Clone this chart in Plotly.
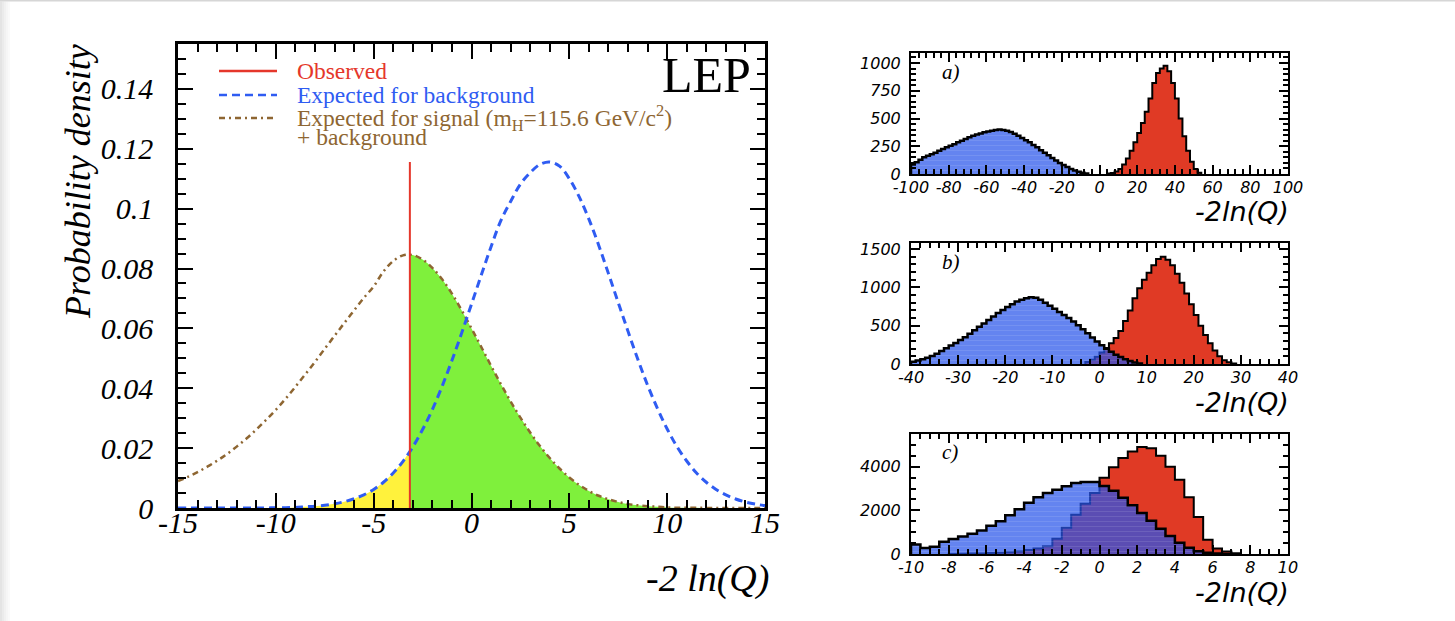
import numpy as np
import plotly.graph_objects as go

W, H = 1455, 621

# ---------------- main panel: probability densities of -2ln(Q) ----------------
q_grid = np.arange(-15.0, 15.01, 0.5)

bkg_density = [0, 0, 0, 0, 0, 0, 0, 0, 0, 0,
               0.0001, 0.0001, 0.0002, 0.0004, 0.0006, 0.0009, 0.0014, 0.0021, 0.0031, 0.0044,
               0.0062, 0.0086, 0.0117, 0.0156, 0.0204, 0.0262, 0.0329, 0.0407, 0.0493, 0.0585,
               0.0681, 0.0778, 0.0873, 0.0960, 0.1024, 0.1082, 0.1120, 0.1148, 0.1156, 0.1142,
               0.1100, 0.1040, 0.0965, 0.0878, 0.0783, 0.0686, 0.0590, 0.0497, 0.0410, 0.0333,
               0.0264, 0.0205, 0.0157, 0.0117, 0.0086, 0.0062, 0.0044, 0.0030, 0.0020, 0.0013,
               0.0008]

sb_density = [0.0090, 0.0104, 0.0120, 0.0138, 0.0158, 0.0180, 0.0205, 0.0232, 0.0262, 0.0294,
              0.0328, 0.0365, 0.0405, 0.0446, 0.0488, 0.0532, 0.0575, 0.0618, 0.0660, 0.0702,
              0.0740, 0.0790, 0.0825, 0.0844, 0.0845, 0.0830, 0.0802, 0.0764, 0.0716, 0.0660,
              0.0600, 0.0538, 0.0475, 0.0414, 0.0356, 0.0302, 0.0252, 0.0207, 0.0167, 0.0132,
              0.0102, 0.0077, 0.0057, 0.0041, 0.0029, 0.0020, 0.0013, 0.0009, 0.0006, 0.0004,
              0.0002, 0.0001, 0.0001, 0.0001, 0, 0, 0, 0, 0, 0,
              0]

q_observed = -3.15
bkg_at_observed = 0.0190
sb_at_observed = 0.0845
observed_line_top = max(bkg_density)

main_x_ticks = [-15, -10, -5, 0, 5, 10, 15]
main_x_labels = ["-15", "-10", "-5", "0", "5", "10", "15"]
main_y_ticks = [0, 0.02, 0.04, 0.06, 0.08, 0.10, 0.12, 0.14]
main_y_labels = ["0", "0.02", "0.04", "0.06", "0.08", "0.1", "0.12", "0.14"]

# ---------------- small panels: pseudo-experiment histograms ----------------
# a)
a_bkg_start, a_bkg_width = -100, 2
a_bkg_counts = [85, 105, 128, 150, 165, 178, 192, 210, 225, 240,
                255, 268, 285, 300, 315, 330, 345, 355, 365, 375,
                383, 390, 396, 400, 397, 390, 378, 362, 345, 325,
                305, 285, 262, 240, 215, 192, 168, 145, 122, 100,
                80, 62, 46, 32, 20, 11, 4]
a_sb_start, a_sb_width = 4, 2
a_sb_counts = [4, 10, 22, 45, 85, 140, 210, 285, 370, 460,
               560, 680, 820, 910, 950, 975, 925, 820, 680, 500,
               340, 210, 110, 45, 12]
a_x_ticks = [-100, -80, -60, -40, -20, 0, 20, 40, 60, 80, 100]
a_x_labels = ["-100", "-80", "-60", "-40", "-20", "0", "20", "40", "60", "80", "100"]
a_y_ticks = [0, 250, 500, 750, 1000]

# b)
b_bkg_start, b_bkg_width = -40, 1
b_bkg_counts = [30, 45, 62, 80, 105, 135, 170, 205, 240, 275,
                315, 350, 395, 440, 485, 530, 575, 620, 665, 705,
                745, 780, 815, 840, 860, 870, 865, 840, 800, 760,
                720, 680, 640, 600, 555, 505, 455, 400, 345, 295,
                245, 200, 160, 122, 90, 62, 38, 20, 8]
b_sb_start, b_sb_width = -3, 1
b_sb_counts = [25, 55, 95, 150, 210, 270, 340, 430, 560, 700,
               860, 990, 1100, 1190, 1290, 1370, 1400, 1360, 1290, 1180,
               1060, 920, 780, 640, 500, 380, 270, 175, 100, 50,
               22, 8]
b_x_ticks = [-40, -30, -20, -10, 0, 10, 20, 30, 40]
b_x_labels = ["-40", "-30", "-20", "-10", "0", "10", "20", "30", "40"]
b_y_ticks = [0, 500, 1000, 1500]

# c)
c_bkg_start, c_bkg_width = -10, 0.5
c_bkg_counts = [430, 280, 330, 560, 690, 800, 930, 1080, 1300, 1500,
                1780, 2050, 2350, 2600, 2800, 2950, 3100, 3250, 3300, 3300,
                3120, 2900, 2580, 2230, 1880, 1520, 1160, 830, 520, 290,
                130, 55, 18, 5]
c_sb_start, c_sb_width = -8, 0.5
c_sb_counts = [5, 10, 18, 28, 42, 60, 80, 120, 180, 250,
               350, 700, 1200, 1800, 2300, 2800, 3500, 3980, 4400, 4700,
               4900, 4850, 4500, 4000, 3400, 2600, 1700, 650, 250, 110,
               30]
c_x_ticks = [-10, -8, -6, -4, -2, 0, 2, 4, 6, 8, 10]
c_x_labels = ["-10", "-8", "-6", "-4", "-2", "0", "2", "4", "6", "8", "10"]
c_y_ticks = [0, 2000, 4000]

# ---------------- colours and fonts ----------------
RED = "#e5372b"
BLUE = "#2f5cf2"
BROWN = "#8e6632"
YELLOW = "#fff23c"
GREEN = "#7ff03c"
HIST_RED = "#e03a25"
HIST_BLUE = "rgba(40,85,235,0.72)"
SERIF = "Liberation Serif"
SANS = "DejaVu Sans"


def px_x(p):
    return p / W


def px_y(p):
    return 1 - p / H


def step_outline(start, width, counts):
    edges = start + width * np.arange(len(counts) + 1)
    xs = [edges[0]] + list(edges[:-1]) + [edges[-1]]
    ys = [0] + list(counts) + [0]
    return xs, ys


fig = go.Figure()

# yellow: background expectation below the observed value
mask_left = q_grid <= q_observed
fig.add_trace(go.Scatter(
    x=list(q_grid[mask_left]) + [q_observed],
    y=[v for v, m in zip(bkg_density, mask_left) if m] + [bkg_at_observed],
    mode="lines", line=dict(width=0, shape="spline"),
    fill="tozeroy", fillcolor=YELLOW, showlegend=False, hoverinfo="skip"))

# green: signal+background expectation above the observed value
mask_right = q_grid >= q_observed
fig.add_trace(go.Scatter(
    x=[q_observed] + list(q_grid[mask_right]),
    y=[sb_at_observed] + [v for v, m in zip(sb_density, mask_right) if m],
    mode="lines", line=dict(width=0, shape="spline"),
    fill="tozeroy", fillcolor=GREEN, showlegend=False, hoverinfo="skip"))

fig.add_trace(go.Scatter(
    x=q_grid, y=sb_density, mode="lines",
    line=dict(color=BROWN, width=2.5, dash="6px,4px,2px,4px", shape="spline"),
    showlegend=False))
fig.add_trace(go.Scatter(
    x=q_grid, y=bkg_density, mode="lines",
    line=dict(color=BLUE, width=3, dash="8px,5px", shape="spline"),
    showlegend=False))
fig.add_trace(go.Scatter(
    x=[q_observed, q_observed], y=[0, observed_line_top], mode="lines",
    line=dict(color=RED, width=2), showlegend=False))

# histogram panels
panels = [
    ("x2", "y2", a_bkg_start, a_bkg_width, a_bkg_counts, a_sb_start, a_sb_width, a_sb_counts),
    ("x3", "y3", b_bkg_start, b_bkg_width, b_bkg_counts, b_sb_start, b_sb_width, b_sb_counts),
    ("x4", "y4", c_bkg_start, c_bkg_width, c_bkg_counts, c_sb_start, c_sb_width, c_sb_counts),
]
for xa, ya, b0, bw, bc, s0, sw, sc in panels:
    sx, sy = step_outline(s0, sw, sc)
    fig.add_trace(go.Scatter(
        x=sx, y=sy, xaxis=xa, yaxis=ya, mode="lines",
        line=dict(color="black", width=2, shape="hv"),
        fill="tozeroy", fillcolor=HIST_RED, showlegend=False))
    bx, by = step_outline(b0, bw, bc)
    fig.add_trace(go.Scatter(
        x=bx, y=by, xaxis=xa, yaxis=ya, mode="lines",
        line=dict(color="black", width=2.5, shape="hv"),
        fill="tozeroy", fillcolor=HIST_BLUE,
        fillpattern=dict(shape="-", bgcolor=HIST_BLUE, fgcolor="rgba(255,255,255,0.28)",
                         size=5, solidity=0.15),
        showlegend=False))


def axis_style(rng, tickvals, ticktext, minor_dtick, minor_tick0, domain, anchor,
               font, ticklen, minorlen, linewidth, standoff):
    return dict(
        range=rng, domain=domain, anchor=anchor, automargin=False,
        tickmode="array", tickvals=tickvals, ticktext=ticktext,
        ticks="inside", ticklen=ticklen, tickwidth=2, tickcolor="black",
        showline=True, linecolor="black", linewidth=linewidth, mirror="allticks",
        showgrid=False, zeroline=False, tickfont=font, ticklabelstandoff=standoff,
        minor=dict(ticks="inside", ticklen=minorlen, tickwidth=1.5, tickcolor="black",
                   tickmode="linear", tick0=minor_tick0, dtick=minor_dtick, showgrid=False),
    )


main_font = dict(family=SERIF, size=30, color="black", style="italic")
small_font = dict(family=SANS, size=16, color="black", style="italic")

main_xd = [px_x(178), px_x(765)]
main_yd = [px_y(508), px_y(44)]
pan_xd = [px_x(911), px_x(1288)]
a_yd = [px_y(174), px_y(53)]
b_yd = [px_y(364), px_y(243)]
c_yd = [px_y(554), px_y(434)]

fig.update_layout(
    width=W, height=H,
    margin=dict(l=0, r=0, t=0, b=0, autoexpand=False),
    paper_bgcolor="white", plot_bgcolor="rgba(0,0,0,0)",
    xaxis=axis_style([-15, 15], main_x_ticks, main_x_labels, 1, -15, main_xd, "y",
                     main_font, 15, 8, 2.5, -14),
    yaxis=axis_style([0, 0.155], main_y_ticks, main_y_labels, 0.005, 0, main_yd, "x",
                     main_font, 15, 8, 2.5, 16),
    xaxis2=axis_style([-100, 100], a_x_ticks, a_x_labels, 4, -100, pan_xd, "y2",
                      small_font, 9, 5, 2, -2),
    yaxis2=axis_style([0, 1090], a_y_ticks, [str(v) for v in a_y_ticks], 50, 0, a_yd, "x2",
                      small_font, 9, 5, 2, 5),
    xaxis3=axis_style([-40, 40], b_x_ticks, b_x_labels, 2, -40, pan_xd, "y3",
                      small_font, 9, 5, 2, -2),
    yaxis3=axis_style([0, 1580], b_y_ticks, [str(v) for v in b_y_ticks], 100, 0, b_yd, "x3",
                      small_font, 9, 5, 2, 5),
    xaxis4=axis_style([-10, 10], c_x_ticks, c_x_labels, 0.5, -10, pan_xd, "y4",
                      small_font, 9, 5, 2, -2),
    yaxis4=axis_style([0, 5500], c_y_ticks, [str(v) for v in c_y_ticks], 500, 0, c_yd, "x4",
                      small_font, 9, 5, 2, 5),
)

ann = []
ann.append(dict(text="Probability density", x=px_x(78), y=px_y(182), xref="paper", yref="paper",
                textangle=-90, showarrow=False, xanchor="center", yanchor="middle",
                font=dict(family=SERIF, size=36, color="black", style="italic")))
ann.append(dict(text="-2 ln(Q)", x=px_x(771), y=px_y(578), xref="paper", yref="paper",
                showarrow=False, xanchor="right", yanchor="middle",
                font=dict(family=SERIF, size=38, color="black", style="italic")))
ann.append(dict(text="LEP", x=px_x(753), y=px_y(75), xref="paper", yref="paper",
                showarrow=False, xanchor="right", yanchor="middle",
                font=dict(family=SERIF, size=50, color="black")))

legend_rows = [
    ("Observed", RED, 71),
    ("Expected for background", BLUE, 95),
    ("Expected for signal (m<sub>H</sub>=115.6 GeV/c<sup>2</sup>)", BROWN, 118),
    ("+ background", BROWN, 137),
]
for txt, col, yy in legend_rows:
    ann.append(dict(text=txt, x=px_x(295), y=px_y(yy), xref="paper", yref="paper",
                    showarrow=False, xanchor="left", yanchor="middle",
                    font=dict(family=SERIF, size=23.5, color=col)))

for label, ytop in [("a)", 72), ("b)", 262), ("c)", 452)]:
    ann.append(dict(text=label, x=px_x(940), y=px_y(ytop), xref="paper", yref="paper",
                    showarrow=False, xanchor="left", yanchor="middle",
                    font=dict(family=SERIF, size=21, color="black", style="italic")))
for ytitle in [212, 402, 592]:
    ann.append(dict(text="-2ln(Q)", x=px_x(1291), y=px_y(ytitle), xref="paper", yref="paper",
                    showarrow=False, xanchor="right", yanchor="middle",
                    font=dict(family=SANS, size=27, color="black", style="italic")))

shapes = []
legend_lines = [(RED, "solid", 71), (BLUE, "8px,5px", 95), (BROWN, "6px,4px,2px,4px", 118)]
for col, dash, yy in legend_lines:
    shapes.append(dict(type="line", xref="paper", yref="paper",
                       x0=px_x(219), x1=px_x(277), y0=px_y(yy), y1=px_y(yy),
                       line=dict(color=col, width=2.5, dash=dash)))

# soft card edge along the top and left border
shapes.append(dict(type="rect", xref="paper", yref="paper", x0=0, x1=1, y0=px_y(1.5), y1=1,
                   fillcolor="#d6d6d6", line=dict(width=0), layer="above"))
for i, shade in enumerate(["#e4e4e4", "#ebebeb", "#f1f1f1", "#f6f6f6", "#fafafa"]):
    shapes.append(dict(type="rect", xref="paper", yref="paper",
                       x0=px_x(2 * i), x1=px_x(2 * i + 2), y0=0, y1=px_y(1.5),
                       fillcolor=shade, line=dict(width=0), layer="below"))

fig.update_layout(annotations=ann, shapes=shapes)

fig.write_html("out.html")
